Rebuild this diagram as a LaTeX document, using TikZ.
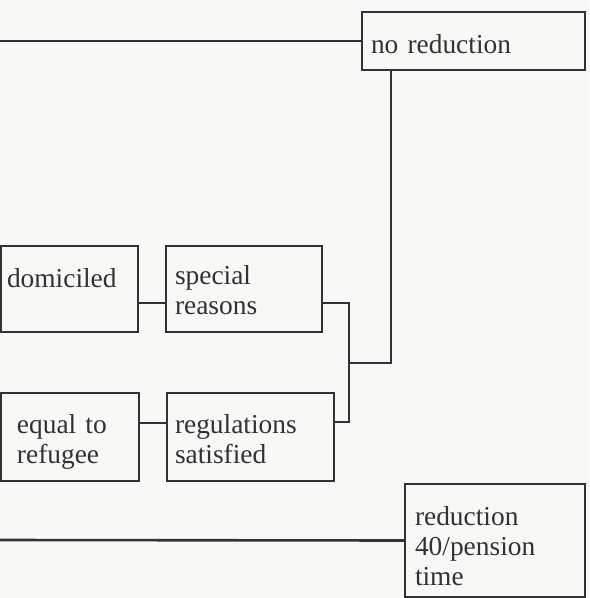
\documentclass[tikz,border=0pt]{standalone}
\usepackage{fontspec}
\setmainfont{Liberation Serif}
\usetikzlibrary{calc}
\definecolor{ink}{RGB}{50,50,50}
\definecolor{paper}{RGB}{248,248,246}
\tikzset{
  every path/.style={
    ink,
    line width=1.3pt
  },
  cell/.style={
    draw,
    rectangle,
    anchor=north west,
    outer sep=0pt,
    inner ysep=0pt,
    align=left,
    text=ink,
    font=\fontsize{13.7pt}{15pt}\selectfont
  }
}

\begin{document}
\begin{tikzpicture}[x=0.5pt,y=-0.5pt]

    % Hintergrund
    \fill[paper] (0,0) rectangle (589,598);
    \useasboundingbox (0,0) rectangle (589,598);

    % Kaesten
    \node[cell, inner xsep=4.5pt, text width=102.5pt, text height=21pt, text depth=8pt]
        (noRed) at (362,12) {no reduction};
    \node[cell, inner xsep=3pt, text width=62.5pt, text height=20.5pt, text depth=22.5pt]
        (dom) at (1,246) {domiciled};
    \node[cell, inner xsep=4.5pt, text width=69pt, text height=19.5pt, text depth=23.5pt]
        (spec) at (166,246) {special\\reasons};
    \node[cell, inner xsep=8pt, text width=53pt, text height=20pt, text depth=24pt]
        (equal) at (1,393) {equal to\\refugee};
    \node[cell, inner xsep=4pt, text width=75.5pt, text height=20pt, text depth=24pt]
        (regul) at (167,393) {regulations\\satisfied};
    \node[cell, inner xsep=5pt, text width=80pt, text height=20.5pt, text depth=36pt]
        (red40) at (405,484) {reduction\\40/pension\\time};

    % freie Enden
    \coordinate (topEnd) at (0,41);
    \coordinate (botEnd) at (0,540);
    \coordinate (fork) at (349,363);

    % Verbindungen
    \draw (topEnd) -- (noRed.west);
    \draw (botEnd) -- (red40.west);
    \draw (dom.east |- 0,303) -- (spec.west |- 0,303);
    \draw (equal.east |- 0,423) -- (regul.west |- 0,423);
    \draw (spec.east |- 0,303) -| (fork) |- (regul.east |- 0,422);
    \draw (fork) -| (noRed.south -| 391,0);

\end{tikzpicture}
\end{document}
